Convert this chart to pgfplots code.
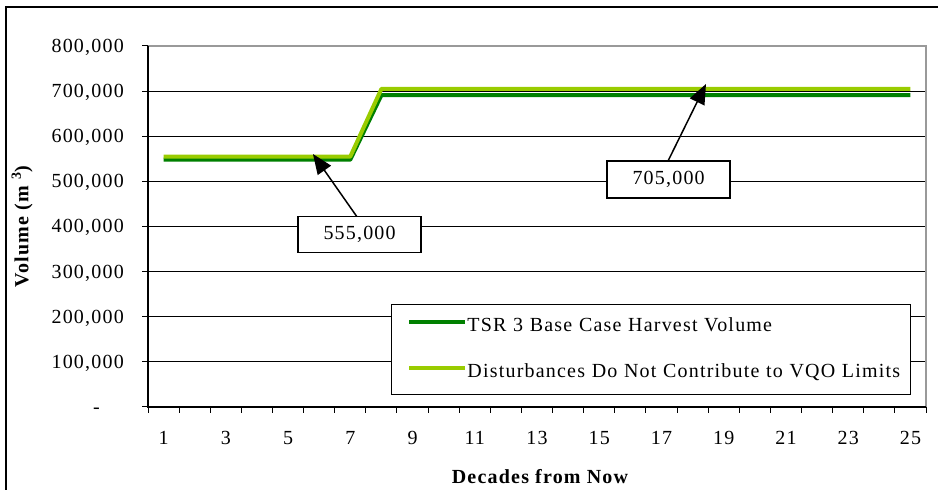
\documentclass[border=0pt]{standalone}
\usepackage{fontspec}
\setmainfont{Liberation Serif}[LetterSpace=6]
\usepackage{pgfplots}
\pgfplotsset{compat=1.18}
\usetikzlibrary{arrows.meta}
\definecolor{dkgreen}{RGB}{0,128,0}
\definecolor{ltgreen}{RGB}{153,204,0}
\newcommand{\cf}{\fontsize{20bp}{24bp}\selectfont}
\pgfplotstableread{
x y
1 548000
2 548000
3 548000
4 548000
5 548000
6 548000
7 548000
8 691000
9 691000
10 691000
11 691000
12 691000
13 691000
14 691000
15 691000
16 691000
17 691000
18 691000
19 691000
20 691000
21 691000
22 691000
23 691000
24 691000
25 691000
}\basecase
\pgfplotstableread{
x y
1 555000
2 555000
3 555000
4 555000
5 555000
6 555000
7 555000
8 705000
9 705000
10 705000
11 705000
12 705000
13 705000
14 705000
15 705000
16 705000
17 705000
18 705000
19 705000
20 705000
21 705000
22 705000
23 705000
24 705000
25 705000
}\disturb
\begin{document}
\begin{tikzpicture}
\useasboundingbox (0,0) rectangle (938bp,490bp);
\draw[line width=1.5bp] (6bp,-5bp) -- (6bp,483bp) -- (945bp,483bp);
\begin{axis}[
  at={(148bp,83bp)}, anchor=south west,
  scale only axis, width=778bp, height=361bp,
  xmin=0.5, xmax=25.5, ymin=0, ymax=800000,
  clip=false,
  scaled y ticks=false, scaled x ticks=false,
  axis line style={draw=none},
  tick pos=left,
  xtick={0.5,1.5,...,25.5}, xticklabels={},
  extra x ticks={1,3,...,25},
  extra x tick labels={1,3,5,7,9,11,13,15,17,19,21,23,25},
  extra x tick style={major tick length=0pt, grid=none},
  ytick={0,100000,...,800000},
  yticklabels={{-\kern24bp},{100,000},{200,000},{300,000},{400,000},{500,000},{600,000},{700,000},{800,000}},
  ymajorgrids, grid style={black, line width=1bp},
  tick align=outside, major tick length=6bp,
  tick style={black, line width=1bp},
  every tick label/.append style={font=\cf},
  yticklabel style={anchor=east, inner sep=0pt, xshift=-18bp, text height=13bp, text depth=0bp},
  xticklabel style={anchor=north, inner sep=0pt, yshift=-24bp},
  legend style={at={(0.3123,0.2853)}, anchor=north west, draw=black, line width=1bp,
    fill=white, inner xsep=0pt, inner ysep=13bp, row sep=28bp,
    nodes={inner sep=0pt, anchor=west, text width=443bp, align=left, text height=14bp, text depth=4bp, font=\cf}},
  legend cell align=left,
  legend image code/.code={\path (0bp,0bp); \draw[#1] (16bp,5bp) -- (72bp,5bp);},
]
\addplot[dkgreen, line width=4bp, line join=round] table[x=x,y=y]{\basecase};
\addlegendentry{TSR 3 Base Case Harvest Volume}
\addplot[ltgreen, line width=4bp, line join=round] table[x=x,y=y]{\disturb};
\addlegendentry{Disturbances Do Not Contribute to VQO Limits}
\draw[-{Triangle[length=20bp,width=16bp]}, line width=1.5bp] (axis cs:7.22,421000) -- (axis cs:5.80,560700);
\node[draw, fill=white, line width=1.5bp, minimum width=123bp, minimum height=36bp, inner sep=0pt, font=\cf] at (axis cs:7.30,382300) {555,000};
\draw[-{Triangle[length=20bp,width=16bp]}, line width=1.5bp] (axis cs:17.21,545100) -- (axis cs:18.43,715800);
\node[draw, fill=white, line width=1.5bp, minimum width=123bp, minimum height=37bp, inner sep=0pt, font=\cf] at (axis cs:17.23,504200) {705,000};
\draw[color=gray!80, line width=2bp] (rel axis cs:0,1) -- (rel axis cs:1,1) -- (rel axis cs:1,0);
\draw[black, line width=2bp] (rel axis cs:0,1) -- (rel axis cs:0,0) -- (rel axis cs:1,0);
\end{axis}
\node[rotate=90, font=\cf\bfseries] at (22bp,263.5bp) {Volume (m \textsuperscript{3})};
\node[font=\cf\bfseries] at (540bp,13bp) {Decades from Now};
\end{tikzpicture}
\end{document}
